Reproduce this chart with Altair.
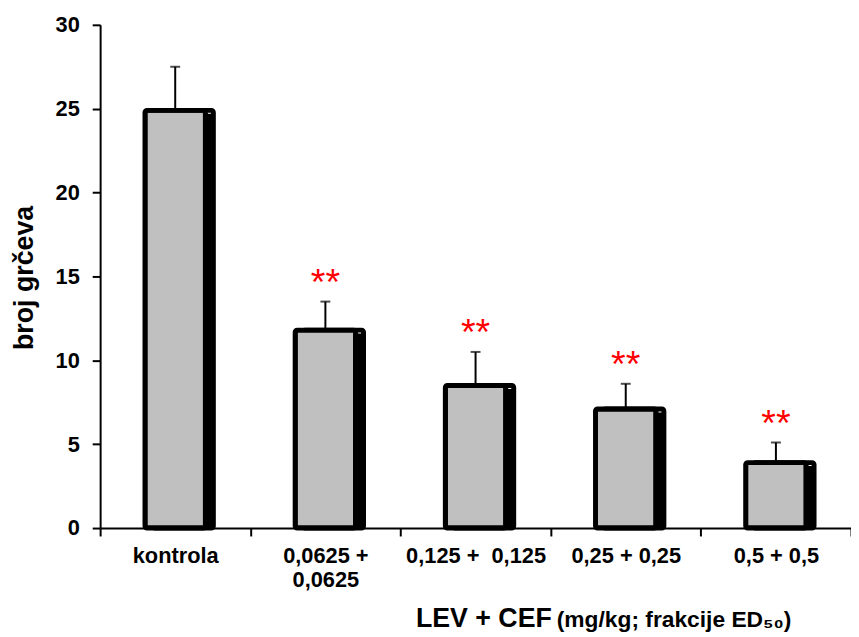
import altair as alt
import pandas as pd

categories = ["kontrola", "0,0625 + 0,0625", "0,125 +\u00a0 0,125", "0,25 + 0,25", "0,5 + 0,5"]
means = [24.9, 11.8, 8.5, 7.1, 3.9]
errors = [2.6, 1.7, 2.0, 1.5, 1.2]
stars = ["", "**", "**", "**", "**"]
y_ticks = [0, 5, 10, 15, 20, 25, 30]
y_title = "broj grčeva"
x_title_main = "LEV + CEF"
x_title_sub = "(mg/kg; frakcije ED\u2085\u2080)"

df = pd.DataFrame({"group": categories, "mean": means, "err": errors, "star": stars})

FONT = "Liberation Sans, Arial, sans-serif"

x_enc = alt.X(
    "group:N",
    sort=categories,
    scale=alt.Scale(domain=categories, paddingInner=0, paddingOuter=0),
    axis=alt.Axis(
        title=None,
        labelAngle=0,
        tickBand="extent",
        domainColor="black",
        domainWidth=2,
        tickColor="black",
        tickWidth=2,
        tickSize=8,
        labelFont=FONT,
        labelFontSize=22,
        labelFontWeight="bold",
        labelColor="black",
        labelLineHeight=24,
        labelPadding=10,
        labelOverlap=False,
        labelExpr="datum.label == '0,0625 + 0,0625' ? ['0,0625 +', '0,0625'] : datum.label",
    ),
)

y_scale = alt.Scale(domain=[0, 30], nice=False)
y_enc = alt.Y(
    "mean:Q",
    scale=y_scale,
    axis=alt.Axis(
        values=y_ticks,
        title=y_title,
        grid=False,
        domainColor="black",
        domainWidth=2,
        tickColor="black",
        tickWidth=2,
        tickSize=8,
        labelFont=FONT,
        labelFontSize=22,
        labelFontWeight="bold",
        labelColor="black",
        labelPadding=13,
        titleFont=FONT,
        titleFontSize=27,
        titleFontWeight="bold",
        titleColor="black",
        titleAngle=270,
        titleX=-76,
        titleY=255,
        titleAlign="center",
        titleBaseline="middle",
    ),
)

base = alt.Chart(df).transform_calculate(upper="datum.mean + datum.err")

shadow = base.mark_bar(
    fill="black", stroke="black", strokeWidth=5, width=61,
    xOffset=8, yOffset=6, y2Offset=0, cornerRadius=2,
).encode(x=x_enc, y=y_enc)

bars = base.mark_bar(
    fill="#c0c0c0", stroke="black", strokeWidth=5, width=61, cornerRadius=2,
).encode(x=x_enc, y=y_enc)

err = base.mark_rule(color="black", strokeWidth=2).encode(
    x=x_enc, y=alt.Y("mean:Q", scale=y_scale), y2="upper:Q"
)

cap = base.mark_tick(color="black", thickness=2, size=10).encode(
    x=x_enc, y=alt.Y("upper:Q", scale=y_scale)
)

star_txt = base.mark_text(
    color="#ff0000", fontSize=38, font=FONT, baseline="alphabetic", dy=-7,
).encode(x=x_enc, y=alt.Y("upper:Q", scale=y_scale), text="star:N")

t_main = alt.Chart(pd.DataFrame({"t": [x_title_main]})).mark_text(
    font=FONT, fontSize=27, fontWeight="bold", color="black",
    align="right", baseline="alphabetic",
).encode(text="t:N", x=alt.value(456), y=alt.value(608))

t_sub = alt.Chart(pd.DataFrame({"t": [x_title_sub]})).mark_text(
    font=FONT, fontSize=23, fontWeight="bold", color="black",
    align="left", baseline="alphabetic",
).encode(text="t:N", x=alt.value(461), y=alt.value(608))

chart = alt.layer(shadow, bars, err, cap, star_txt, t_main, t_sub).properties(
    width=758,
    height=508,
    autosize=alt.AutoSizeParams(type="none"),
    padding={"left": 93, "top": 14, "right": 0, "bottom": 107},
).configure_view(stroke=None)

chart.save("out.html", embed_options={"renderer": "svg", "actions": False})
